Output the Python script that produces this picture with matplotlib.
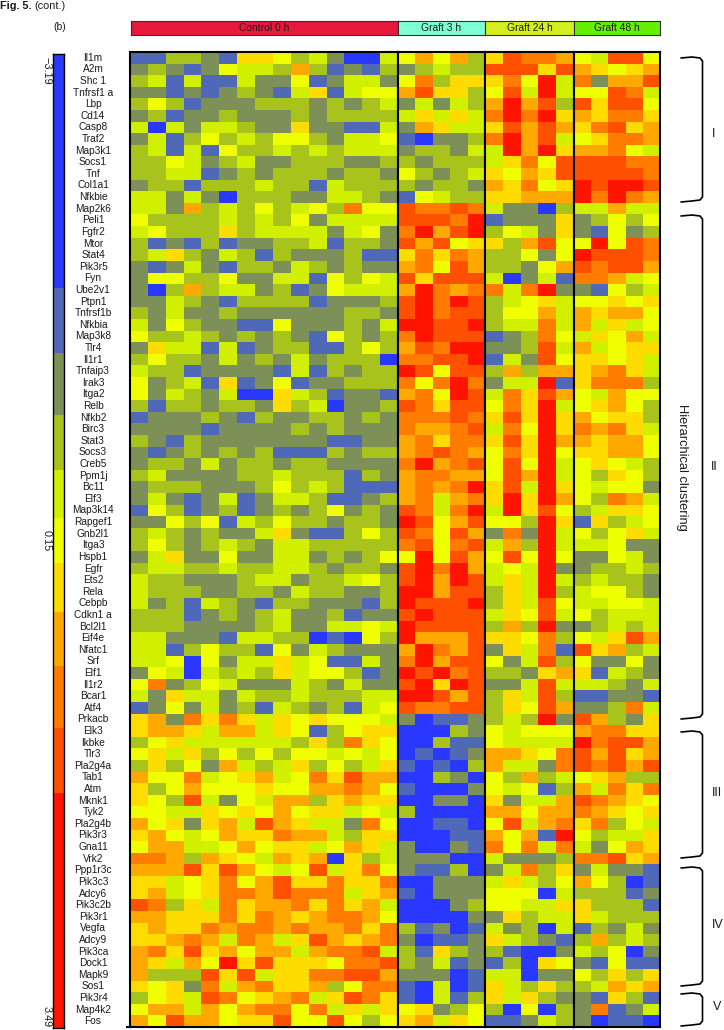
import numpy as np
import matplotlib
matplotlib.use("Agg")
import matplotlib.pyplot as plt
from matplotlib.colors import ListedColormap, BoundaryNorm

plt.rcParams["font.family"] = ["Liberation Sans", "DejaVu Sans"]

W, H = 724, 1030

genes = ["Il1m", "A2m", "Shc 1", "Tnfrsf1 a", "Lbp", "Cd14", "Casp8", "Traf2", "Map3k1", "Socs1",
         "Tnf", "Col1a1", "Nfkbie", "Map2k6", "Peli1", "Fgfr2", "Mtor", "Stat4", "Pik3r5", "Fyn",
         "Ube2v1", "Ptpn1", "Tnfrsf1b", "Nfkbia", "Map3k8", "Tlr4", "Il1r1", "Tnfaip3", "Irak3", "Itga2",
         "Relb", "Nfkb2", "Birc3", "Stat3", "Socs3", "Creb5", "Ppm1j", "Bc11", "Elf3", "Map3k14",
         "Rapgef1", "Gnb2l1", "Itga3", "Hspb1", "Egfr", "Ets2", "Rela", "Cebpb", "Cdkn1 a", "Bcl2l1",
         "Eif4e", "Nfatc1", "Srf", "Elf1", "Il1r2", "Bcar1", "Atf4", "Prkacb", "Elk3", "Ikbke",
         "Tlr3", "Pla2g4a", "Tab1", "Atm", "Mknk1", "Tyk2", "Pla2g4b", "Pik3r3", "Gna11", "Vrk2",
         "Ppp1r3c", "Pik3c3", "Adcy6", "Pik3c2b", "Pik3r1", "Vegfa", "Adcy9", "Pik3ca", "Dock1", "Mapk9",
         "Sos1", "Pik3r4", "Map4k2", "Fos"]

# colour level of each cell, one string per gene (same order as genes)
# 0 = blue ... a = red
control_0h = """
113321665342004 232125443731213 341411422512442 221212321461455 353122233323234 231223222323333
404244322622114 241353435532445 341415334343444 335423422333223 334412323332332 233133343314333
442420333224432 442734353453855 533334343524444 453336344442452 312131223341332 346324313222311
212421332432322 255335224415354 203734423125444 224321333312223 324223222222332 425322115222324
533432323215323 264414123311353 353324232423330 433122221413233 523416125122333 524324006431221
313323326340223 122232132233232 222212222323222 321322222221122 212323231113233 233242332332222
342222334333132 233322235343111 242124124431123 153123123235232 225351435332332 343232246211353
353234324433333 246225224423235 344334334432332 433222344233453 433322332433223 423143213322213
333123234223122 333222234224454 442221443301053 441353315243222 445052446451142 254043436455312
582354222432422 426442433433344 125242314323145 672868646565554 677647746513566 356444444363865
564635353554545 363527434635346 755845674586977 635755565577875 653942547736766 554465657566454
756267497644285 675457668774366 577445756645764 887376547670634 777969754594685 664568579668668
674568879888467 983648677868674 776668687678875 676687887877868 667874874697678 786967577478894
76475a696665889 733396946688997 656284786673588 356498567846986 577475788584646 759775669559535
""".split()

graft_3h = """
57573 23433 58366 79663 24243 46464 27644 10223 23324 32333 53234 32332 15433 98898
9998a 8a79a 97956 68687 78597 96999 7a878 9a8a9 9a899 aa99a 8a999 798aa 8899a a9599
858a8 785a9 98699 88898 87789 78688 78987 8a789 78877 7878a 78478 9848a a9579 98597
89589 5a597 9a8a7 9a7a9 aa799 a999a 9a999 a9999 a7779 7a879 8a799 a9a89 9a6a9 aa979
98899 20112 00032 00311 01012 10103 00320 10002 00220 30000 00110 00011 20021 22200
21130 00222 10222 00023 00002 31201 20112 31632 32412 22201 10401 10413 56235 67465
""".split()

graft_24h = """
69887 99969 685a4 594a4 7a793 8a8a6 69797 8a794 4a7a6 46859 65769 76856 66777 42203
12226 35426 63795 33525 33257 40241 848a2 34564 35574 34484 12385 22394 14295 37377
244a1 48697 586a4 696a6 485a6 696a7 586a5 595a4 597a4 694a6 6a6a7 4a695 553a6 282a4
473a4 595a5 454a2 464a4 364a3 36495 46594 373a2 66583 26481 52493 33267 22494 36493
36597 343a2 54555 54444 77658 74428 53734 54513 62447 77577 59478 7571a 85848 42223
24836 46435 55504 55446 26344 42304 64321 31002 13065 44022 64363 64632 30503 11243
""".split()

graft_48h = """
54995 76567 82779 55984 96995 76886 68967 56887 77854 99988 99998 a9aa9 a8a87 44744
23535 21523 5a598 a9998 98997 88745 21534 55656 76775 74645 46574 74566 66564 67864
68883 54755 56753 75663 87864 76775 66775 56543 53653 54552 53874 34665 16345 53564
44522 22542 23343 34332 45532 44554 53444 23434 54697 96734 52252 61432 44324 11221
22384 97326 78866 a8997 97967 98979 56733 74868 98765 87656 68354 53446 42576 88967
24221 75301 33312 63331 64333 13242 37343 43502 21511 53636 34767 21631 28124 20110
""".split()

groups = ["Control 0 h", "Graft 3 h", "Graft 24 h", "Graft 48 h"]
group_cols = ["#e8173c", "#7fffd4", "#d4f01c", "#66f000"]
group_edges = [130, 398, 485, 574, 660]
levels = ["#2a38ff", "#5068b8", "#7c9058", "#a8c41c", "#d0f000", "#f0ff00",
          "#ffdc00", "#ffa800", "#ff7c00", "#ff5000", "#ff1400"]

# colour bar steps, expression value
bar_bounds = [-3.19, -1.585, -1.14, -0.714, -0.337, -0.007, 0.30, 0.64, 1.01, 1.43, 1.88, 3.49]
bar_ticks = [-3.19, 0.15, 3.49]
bar_labels = ["\u22123.19", "0.15", "3.49"]

clusters = ["I", "II", "III", "IV", "V"]
cluster_spans = [(57, 201), (215, 718), (731, 857), (867, 985), (993, 1025)]
cluster_xy = [(714, 134), (714, 467), (717, 793), (718, 925), (717, 1007)]


def px_axes(x0, y0, x1, y1):
    return fig.add_axes([x0 / W, 1 - y1 / H, (x1 - x0) / W, (y1 - y0) / H])


def to_matrix(rows):
    return np.array([[int(c, 16) for c in r] for r in rows])


fig = plt.figure(figsize=(W / 100, H / 100), dpi=100)
cmap = ListedColormap(levels)

# heat map, one axes per condition
top, bottom = 52, 1027
for i, rows in enumerate([control_0h, graft_3h, graft_24h, graft_48h]):
    ax = px_axes(group_edges[i], top, group_edges[i + 1], bottom)
    ax.imshow(to_matrix(rows), cmap=cmap, vmin=-0.5, vmax=10.5, aspect="auto", interpolation="nearest")
    ax.set_xticks([])
    ax.set_yticks([])
    for s in ax.spines.values():
        s.set_linewidth(1.5)
        s.set_color("black")

    # condition bar on top
    hd = px_axes(group_edges[i] + (1 if i == 0 else 0), 21, group_edges[i + 1], 35)
    hd.set_facecolor(group_cols[i])
    hd.set_xticks([])
    hd.set_yticks([])
    for s in hd.spines.values():
        s.set_linewidth(0.8)
        s.set_color("#303030")
    hd.text(0.5, 0.47, groups[i], transform=hd.transAxes, ha="center", va="center",
            fontsize=7.4, color="#1a1a1a")

# colour bar on the left
cb = px_axes(53, 54, 64, 1028)
cb.pcolormesh([0, 1], bar_bounds, np.arange(len(levels)).reshape(-1, 1), cmap=cmap,
              norm=BoundaryNorm(np.arange(len(levels) + 1) - 0.5, len(levels)))
cb.set_ylim(bar_bounds[-1], bar_bounds[0])
cb.set_xticks([])
cb.set_yticks([])
for s in cb.spines.values():
    s.set_linewidth(1.0)

# everything else in pixel coordinates
ov = fig.add_axes([0, 0, 1, 1], facecolor="none")
ov.set_xlim(0, W)
ov.set_ylim(H, 0)
ov.axis("off")

ov.text(0, 6, "Fig. 5.", fontsize=7.8, fontweight="bold", va="center", color="#1a1a1a")
ov.text(34, 6, "(cont.)", fontsize=7.8, va="center", color="#1a1a1a")
ov.text(53, 27, "(b)", fontsize=7.4, va="center", color="#1a1a1a")

row_h = (bottom - top) / len(genes)
for i, g in enumerate(genes):
    ov.text(93, top + row_h * (i + 0.5), g, fontsize=7.3, ha="center", va="center", color="#1a1a1a")

# the bottom rule runs a little past the left of the frame
ov.plot([127, 131], [bottom, bottom], color="black", lw=1.5)

for v, lab in zip(bar_ticks, bar_labels):
    y = 54 + (v - bar_bounds[0]) / (bar_bounds[-1] - bar_bounds[0]) * (1028 - 54)
    if v == bar_ticks[0]:
        ov.text(47, 57, lab, rotation=-90, fontsize=7.8, ha="center", va="top", color="#1a1a1a")
    elif v == bar_ticks[-1]:
        ov.text(47, 1027, lab, rotation=-90, fontsize=7.8, ha="center", va="bottom", color="#1a1a1a")
    else:
        ov.text(47, y, lab, rotation=-90, fontsize=7.8, ha="center", va="center", color="#1a1a1a")

# brackets for the clusters
for (y0, y1), lab, (tx, ty) in zip(cluster_spans, clusters, cluster_xy):
    bx = [681, 692, 700, 702.5, 702.5, 700, 692, 681]
    by = [y0 + 1, y0, y0 + 1, y0 + 4, y1 - 4, y1 - 1, y1, y1 + 1]
    ov.plot(bx, by, color="black", lw=1.2, solid_capstyle="round")
    ov.text(tx, ty, lab, fontsize=9, ha="center", va="center", color="#1a1a1a")

ov.text(682, 467, "Hierarchical clustering", rotation=-90, fontsize=9.3,
        ha="center", va="center", color="#1a1a1a")

fig.savefig("out.png", dpi=100)
